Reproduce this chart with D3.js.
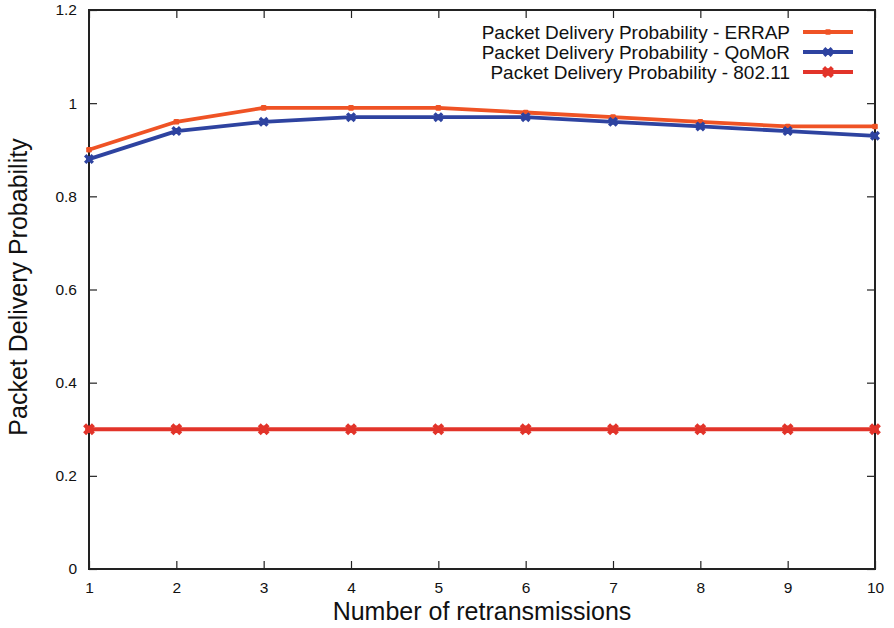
<!DOCTYPE html>
<html>
<head>
<meta charset="utf-8">
<script src="https://cdn.jsdelivr.net/npm/d3@7"></script>
<style>
  html, body { margin: 0; padding: 0; background: #fff; }
  svg { display: block; font-family: "Liberation Sans", Arial, Helvetica, sans-serif; }
</style>
</head>
<body>
<svg id="chart" width="894" height="628"></svg>
<script>
// Retransmission counts on the x axis
const retransmissions = [1, 2, 3, 4, 5, 6, 7, 8, 9, 10];

// Packet delivery probability per protocol
const errap  = [0.90, 0.96, 0.99, 0.99, 0.99, 0.98, 0.97, 0.96, 0.95, 0.95];
const qomor  = [0.88, 0.94, 0.96, 0.97, 0.97, 0.97, 0.96, 0.95, 0.94, 0.93];
const ieee80211 = [0.30, 0.30, 0.30, 0.30, 0.30, 0.30, 0.30, 0.30, 0.30, 0.30];

const seriesNames = [
  "Packet Delivery Probability - ERRAP",
  "Packet Delivery Probability - QoMoR",
  "Packet Delivery Probability - 802.11"
];
const yTicks = [0, 0.2, 0.4, 0.6, 0.8, 1, 1.2];
const yTickLabels = ["0", "0.2", "0.4", "0.6", "0.8", "1", "1.2"];

const series = [
  { name: seriesNames[0], values: errap, color: "#ef5325", marker: "dot" },
  { name: seriesNames[1], values: qomor, color: "#2e43a0", marker: "cross" },
  { name: seriesNames[2], values: ieee80211, color: "#e2342a", marker: "bigcross" }
];

const svg = d3.select("#chart");
const plotLeft = 89, plotRight = 875, plotTop = 10, plotBottom = 569;

const x = d3.scaleLinear().domain([1, 10]).range([plotLeft, plotRight]);
const y = d3.scaleLinear().domain([0, 1.2]).range([plotBottom, plotTop]);

const axisColor = "#222";

// Tick marks on all four sides, pointing inward
const g = svg.append("g");
const tickLen = 8;

const xAxisB = d3.axisBottom(x).tickValues(retransmissions).tickSize(-tickLen).tickPadding(13).tickFormat(d3.format("d"));
const xAxisT = d3.axisTop(x).tickValues(retransmissions).tickSize(-tickLen).tickFormat("");
const yAxisL = d3.axisLeft(y).tickValues(yTicks).tickSize(-tickLen).tickPadding(12).tickFormat((d, i) => yTickLabels[i]);
const yAxisR = d3.axisRight(y).tickValues(yTicks).tickSize(-tickLen).tickFormat("");

function styleAxis(sel) {
  sel.select(".domain").remove();
  sel.selectAll(".tick line").attr("stroke", axisColor).attr("stroke-width", 1.2);
  sel.selectAll(".tick text").attr("fill", "#111").style("font-size", "15.5px");
}
g.append("g").attr("transform", `translate(0,${plotBottom})`).call(xAxisB).call(styleAxis);
g.append("g").attr("transform", `translate(0,${plotTop})`).call(xAxisT).call(styleAxis);
g.append("g").attr("transform", `translate(${plotLeft},0)`).call(yAxisL).call(styleAxis);
g.append("g").attr("transform", `translate(${plotRight},0)`).call(yAxisR).call(styleAxis);

// Plot frame
svg.append("rect")
  .attr("x", plotLeft).attr("y", plotTop)
  .attr("width", plotRight - plotLeft).attr("height", plotBottom - plotTop)
  .attr("fill", "none").attr("stroke", axisColor).attr("stroke-width", 2);

// Axis titles
svg.append("text")
  .attr("x", 482).attr("y", 620)
  .attr("text-anchor", "middle")
  .style("font-size", "25px").attr("fill", "#111")
  .text("Number of retransmissions");

svg.append("text")
  .attr("transform", `translate(27,287) rotate(-90)`)
  .attr("text-anchor", "middle")
  .style("font-size", "25px").attr("fill", "#111")
  .text("Packet Delivery Probability");

// Marker drawing
function drawMarker(sel, type, color) {
  if (type === "dot") {
    sel.append("rect").attr("x", -2.8).attr("y", -2.8).attr("width", 5.6).attr("height", 5.6)
      .attr("rx", 1.2).attr("fill", color);
  } else {
    const s = type === "cross" ? 3.8 : 4.4;
    const w = type === "cross" ? 3.4 : 4.2;
    sel.append("path")
      .attr("d", `M${-s},${-s}L${s},${s}M${-s},${s}L${s},${-s}`)
      .attr("stroke", color).attr("stroke-width", w).attr("fill", "none");
    sel.append("circle").attr("r", type === "cross" ? 3 : 3.8).attr("fill", color);
  }
}

const line = d3.line()
  .x((d, i) => x(retransmissions[i]))
  .y(d => y(d));

series.forEach(s => {
  svg.append("path")
    .datum(s.values)
    .attr("d", line)
    .attr("fill", "none")
    .attr("stroke", s.color)
    .attr("stroke-width", 3.8)
    .attr("stroke-linejoin", "round");
  s.values.forEach((v, i) => {
    const m = svg.append("g").attr("transform", `translate(${x(retransmissions[i])},${y(v)})`);
    drawMarker(m, s.marker, s.color);
  });
});

// Legend in the top-right corner
const legend = svg.append("g");
series.forEach((s, i) => {
  const ly = 32 + i * 20;
  legend.append("text")
    .attr("x", 790).attr("y", ly + 7)
    .attr("text-anchor", "end")
    .style("font-size", "19px").attr("fill", "#111")
    .text(s.name);
  legend.append("line")
    .attr("x1", 803).attr("x2", 853).attr("y1", ly).attr("y2", ly)
    .attr("stroke", s.color).attr("stroke-width", 3.8);
  const m = legend.append("g").attr("transform", `translate(828,${ly})`);
  drawMarker(m, s.marker, s.color);
});
</script>
</body>
</html>
